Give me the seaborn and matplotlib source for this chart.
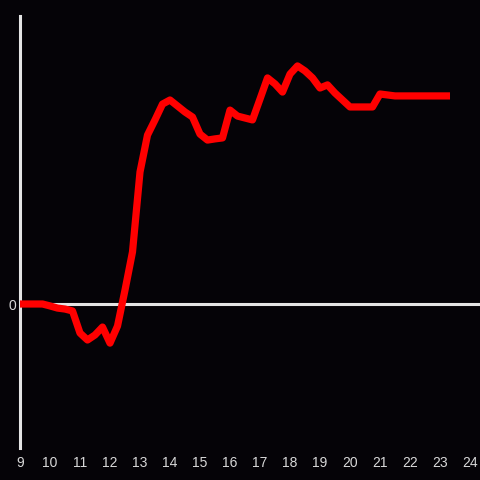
import numpy as np
import pandas as pd
import matplotlib
matplotlib.use('Agg')
import matplotlib.pyplot as plt
import seaborn as sns

# quarter-hour readings from 9:00, last one at 23:20
hours = [9 + k * 0.25 for k in range(57)] + [23 + 1/3]
values = [0, 0, 0, 0, -0.08, -0.17, -0.21, -0.29, -1.21, -1.5,
          -1.29, -0.96, -1.63, -0.92, 0.58, 2.17, 5.5, 7.04, 7.67, 8.33,
          8.5, 8.25, 8.0, 7.79, 7.08, 6.83, 6.88, 6.92, 8.08, 7.83,
          7.75, 7.67, 8.54, 9.42, 9.17, 8.83, 9.58, 9.92, 9.71, 9.42,
          9.0, 9.13, 8.79, 8.5, 8.21, 8.21, 8.21, 8.21, 8.75, 8.71,
          8.67, 8.67, 8.67, 8.67, 8.67, 8.67, 8.67, 8.67]
xticks = list(range(9, 25))

df = pd.DataFrame({'heure': hours, 'valeur': values})

bg = '#050307'
fg = '#d8d8d8'

sns.set_style('dark', {'axes.facecolor': bg, 'figure.facecolor': bg})
plt.rcParams['font.family'] = ['Liberation Sans', 'DejaVu Sans']

fig = plt.figure(figsize=(4.8, 4.8), dpi=100)
ax = fig.add_axes([20/480, 32/480, 460/480, 432/480])

ax.axhline(0, color='#e4e4e4', lw=2.2, zorder=1)
sns.lineplot(data=df, x='heure', y='valeur', ax=ax, color='#ff0000',
             lw=5.2, zorder=3)
ax.lines[-1].set_solid_capstyle('butt')

ax.set_xlim(9, 24 + 1/3)
ax.set_ylim(-6, 12)
ax.set_xticks(xticks)
ax.set_xticklabels([str(t) for t in xticks])
ax.set_yticks([0])
ax.set_yticklabels(['0'])
ax.tick_params(axis='both', length=0, colors=fg, labelsize=10)
ax.tick_params(axis='x', pad=6)
ax.tick_params(axis='y', pad=3)
ax.set_xlabel('')
ax.set_ylabel('')
ax.grid(False)

for s in ['top', 'right', 'bottom']:
    ax.spines[s].set_visible(False)
ax.spines['left'].set_color('#e4e4e4')
ax.spines['left'].set_linewidth(2.2)

fig.savefig('out.png', dpi=100, facecolor=bg)
